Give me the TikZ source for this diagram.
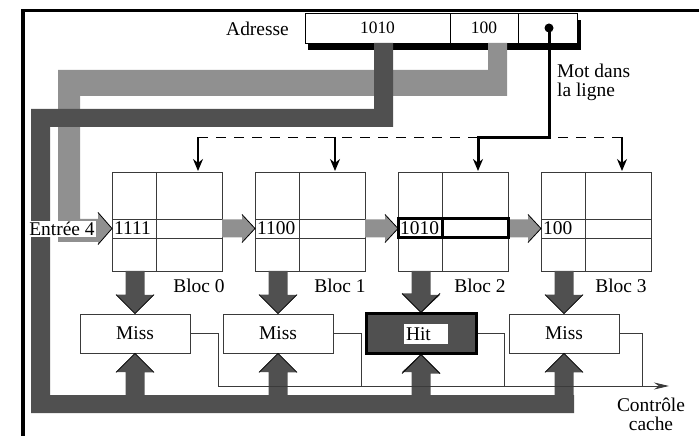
\documentclass[tikz,border=0pt]{standalone}
\usepackage{fontspec}
\setmainfont{Liberation Serif}
\usetikzlibrary{arrows.meta,positioning,calc}
\definecolor{busdark}{HTML}{505050}
\definecolor{buslight}{HTML}{909090}
\definecolor{linegray}{HTML}{3A3A3A}
\tikzset{
  lbl/.style={inner sep=0pt, font=\fontsize{19.5}{21}\selectfont},
  cell/.style={draw=linegray, line width=0.8bp, minimum width=110bp,
               minimum height=99bp, inner sep=0pt},
  tagtxt/.style={anchor=west, inner sep=1bp, font=\fontsize{19.5}{21}\selectfont},
  field/.style={draw=black, fill=white, line width=0.8bp, minimum height=30bp,
                inner sep=0pt, font=\fontsize{17.5}{19}\selectfont},
  testbox/.style={draw=linegray, fill=white, line width=0.8bp, minimum width=110bp,
                  minimum height=39bp, inner sep=0pt, font=\fontsize{19.5}{21}\selectfont},
  wire/.style={draw=linegray, line width=0.9bp},
  wordarrow/.style={-{Stealth[length=12bp,width=10bp]}, line width=1.2bp},
  hilite/.style={draw=black, line width=3bp},
  headedge/.style={draw=black, line width=0.8bp}
}
\begin{document}
\begin{tikzpicture}[x=1bp,y=-1bp,>=Stealth]
  \useasboundingbox (0,0) rectangle (699,436);
  % frame
  \draw[line width=3.5bp] (23,436) -- (23,10.5) -- (699,10.5);

  % address register
  \node[lbl, anchor=east] (adrlbl) at (289,28.5) {Adresse};
  \fill (308,20) rectangle (581,50);
  \node[field, minimum width=145bp] (ftag) at (377.5,28) {1010};
  \node[field, minimum width=68bp] (fidx) at (484,28) {100};
  \node[field, minimum width=59bp] (fword) at (547.5,28) {};
  \node[circle, fill, inner sep=0pt, minimum size=9bp] (worddot) at (549,28) {};
  \node[lbl, align=left, anchor=north west, font=\fontsize{19.5}{19}\selectfont]
    (motlbl) at (557,63.5) {Mot dans\\la ligne};

  % blocks
  \foreach \k/\tagval in {0/1111,1/1100,2/1010,3/100} {
    \pgfmathsetmacro{\bx}{112+143*\k}
    \node[cell, anchor=north west] (bloc\k) at (\bx,172) {};
    \draw[wire] (\bx+44,172) -- (\bx+44,271);
    \draw[wire] (\bx,219) -- (\bx+110,219) (\bx,238) -- (\bx+110,238);
    \node[tagtxt] (tag\k) at (\bx+1,228.5) {\tagval};
    \coordinate (in\k) at (\bx,228.5);
    \coordinate (out\k) at (\bx+110,228.5);
    \coordinate (bot\k) at (135+143*\k,271);
  }
  \foreach \k/\lx in {0/199,1/340,2/480,3/621}
    {\node[lbl] (blab\k) at (\lx,286) {Bloc \k};}

  % index bus (light) and tag bus (dark)
  \fill[buslight] (488,43) -- (507,43) -- (507,96) -- (80,96) -- (80,219) -- (98,219)
    -- (98,212.5) -- (in0) -- (98,244.5) -- (98,242) -- (58,242) -- (58,70) -- (488,70) -- cycle;
  \draw[headedge] (98,212.5) -- (in0) -- (98,244.5);
  \fill[busdark] (374,43) -- (393,43) -- (393,127) -- (50,127) -- (50,395) -- (574,395)
    -- (574,413) -- (31,413) -- (31,109) -- (374,109) -- cycle;
  \node[lbl, fill=white, inner sep=1bp] (entree) at (62,229) {Entrée 4};

  % shifting between blocks
  \foreach \k/\j in {0/1,1/2,2/3} {
    \fill[buslight] (out\k) ++(0,-9) -- ++(20,0) -- ++(0,-5) -- (in\j) -- ++(-13,14)
      -- ++(0,-5) -- ++(-20,0) -- cycle;
    \draw[headedge] (in\j) ++(-13,-14) -- (in\j) -- ++(-13,14);
  }
  \draw[hilite] (in2) ++(0,-9.5) rectangle ++(110,19);
  \draw[hilite] (in2) ++(44,-9.5) -- ++(0,19);

  % comparators
  \node[testbox] (test0) at (135,333.5) {Miss};
  \node[testbox] (test1) at (278,333.5) {Miss};
  \node[testbox, fill=busdark, draw=black, line width=3bp] (test2) at (421,333.5) {};
  \node[testbox] (test3) at (564,333.5) {Miss};
  \node[lbl, fill=white, inner xsep=2bp, text width=40bp, minimum height=20bp,
        align=left] (hitlbl) at (426,334) {Hit};

  \foreach \k in {0,1,2,3} {
    \coordinate (bus\k) at (135+143*\k,396);
    \fill[busdark] (bot\k) ++(-9.5,0) -- ++(19,0) -- ++(0,24) -- ++(9.5,0)
      -- (test\k.north) -- ++(-19,-19) -- ++(9.5,0) -- cycle;
    \draw[headedge] (test\k.north) ++(-19,-19) -- (test\k.north) -- ++(19,-19);
    \fill[busdark] (bus\k) ++(-9.5,0) -- ++(0,-24) -- ++(-9.5,0) -- (test\k.south)
      -- ++(19,19) -- ++(-9.5,0) -- ++(0,24) -- cycle;
    \draw[headedge] (test\k.south) ++(-19,19) -- (test\k.south) -- ++(19,19);
  }

  % cache control
  \foreach \k/\cx in {0/218,1/361,2/504,3/642} {
    \coordinate (ctl\k) at (\cx,386);
    \draw[wire] (test\k.east) -| (ctl\k);
  }
  \coordinate (ctlend) at (669,386);
  \draw[wire, -{Stealth[length=15bp,width=7bp]}] (ctl0) -- (ctlend);
  \node[lbl, align=center, font=\fontsize{19.5}{19}\selectfont] (ctrllbl) at (651,414)
    {Contrôle\\cache};

  % word select
  \foreach \k/\sx in {0/198,1/335,2/478,3/622} {
    \coordinate (sel\k) at (\sx,137.5);
    \coordinate (dn\k) at (\sx,171);
  }
  \draw[line width=1.2bp, dash pattern=on 10bp off 8bp] (sel0) -- (sel3);
  \foreach \k in {0,1,3} {\draw[wordarrow] (sel\k) -- (dn\k);}
  \draw[wordarrow, line width=3bp] (worddot.center) |- (sel2) -- (dn2);
\end{tikzpicture}
\end{document}
